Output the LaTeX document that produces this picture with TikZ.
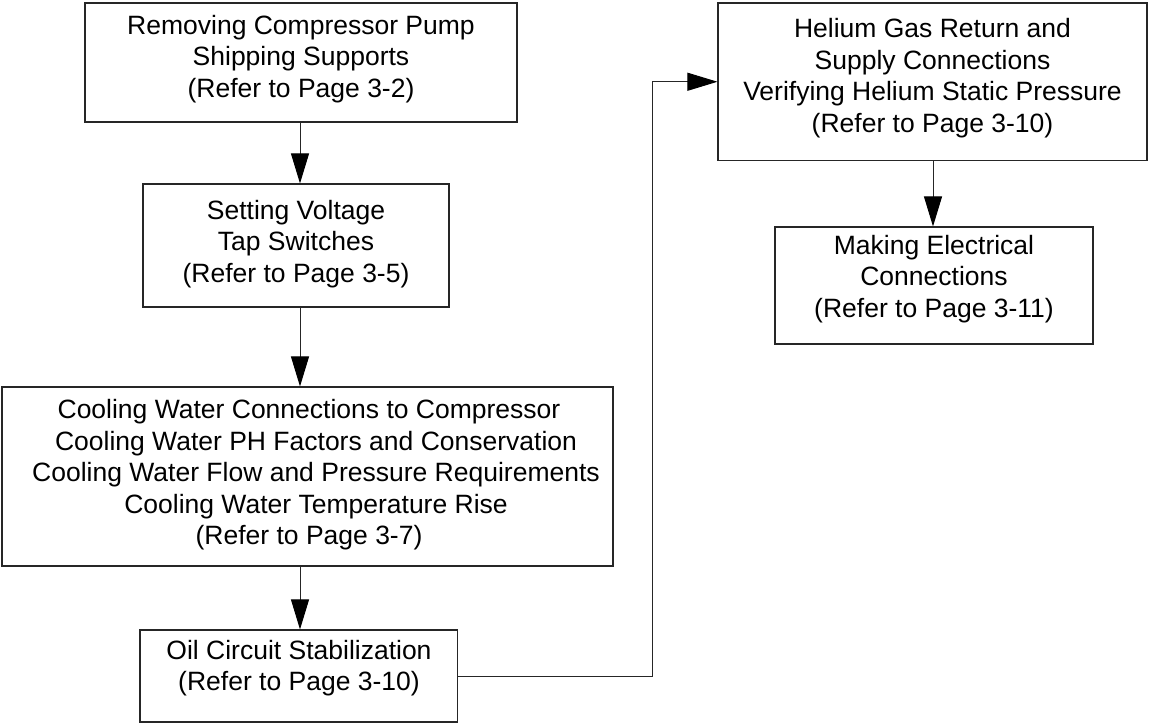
\documentclass[tikz,border=0pt]{standalone}
\usepackage{fontspec}
\setmainfont{Liberation Sans}
\usetikzlibrary{arrows.meta}
\begin{document}
\begin{tikzpicture}[x=1pt,y=1pt,
  box/.style={draw=black!85, line width=1.1pt, inner sep=0pt},
  txt/.style={align=center, inner sep=0pt, font=\fontsize{26.5}{31.5}\selectfont},
  arr/.style={draw=black!85, line width=1pt, -{Triangle[length=30pt,width=18pt,fill=black,color=black]}}]
\useasboundingbox (0,0) rectangle (1149,-723);
% boxes
\node[box, minimum width=432pt, minimum height=119pt] (b1) at (301,-62.5) {};
\node[box, minimum width=306pt, minimum height=123pt] (b2) at (296,-245.5) {};
\node[box, minimum width=611pt, minimum height=179pt] (b3) at (307.5,-476.5) {};
\node[box, minimum width=317.5pt, minimum height=92pt] (b4) at (298.75,-676) {};
\node[box, minimum width=429pt, minimum height=157.5pt] (b5) at (932.5,-81.75) {};
\node[box, minimum width=318pt, minimum height=117pt] (b6) at (934,-285.5) {};
% texts
\node[txt] (t1) at (301,-58.8) {Removing Compressor Pump\\Shipping Supports\\(Refer to Page 3-2)};
\node[txt] (t2) at (296,-244) {Setting Voltage\\Tap Switches\\(Refer to Page 3-5)};
\node[txt] (t3) at (309,-475) {Cooling Water Connections to Compressor\\\hspace*{14pt}Cooling Water PH Factors and Conservation\\\hspace*{14pt}Cooling Water Flow and Pressure Requirements\\\hspace*{14pt}Cooling Water Temperature Rise\\(Refer to Page 3-7)};
\node[txt] (t4) at (299,-668) {Oil Circuit Stabilization\\(Refer to Page 3-10)};
\node[txt] (t5) at (932.5,-78) {Helium Gas Return and\\Supply Connections\\Verifying Helium Static Pressure\\(Refer to Page 3-10)};
\node[txt] (t6) at (934,-279) {Making Electrical\\Connections\\(Refer to Page 3-11)};
% connectors
\coordinate (ax) at (300,0);
\coordinate (bx) at (933,0);
\coordinate (bend) at (652,-676);
\draw[arr] (b1.south -| ax) -- (b2.north -| ax);
\draw[arr] (b2.south -| ax) -- (b3.north -| ax);
\draw[arr] (b3.south -| ax) -- (b4.north -| ax);
\draw[arr] (b4.east) -- (bend) |- (b5.west);
\draw[arr] (b5.south -| bx) -- (b6.north -| bx);
\end{tikzpicture}
\end{document}
